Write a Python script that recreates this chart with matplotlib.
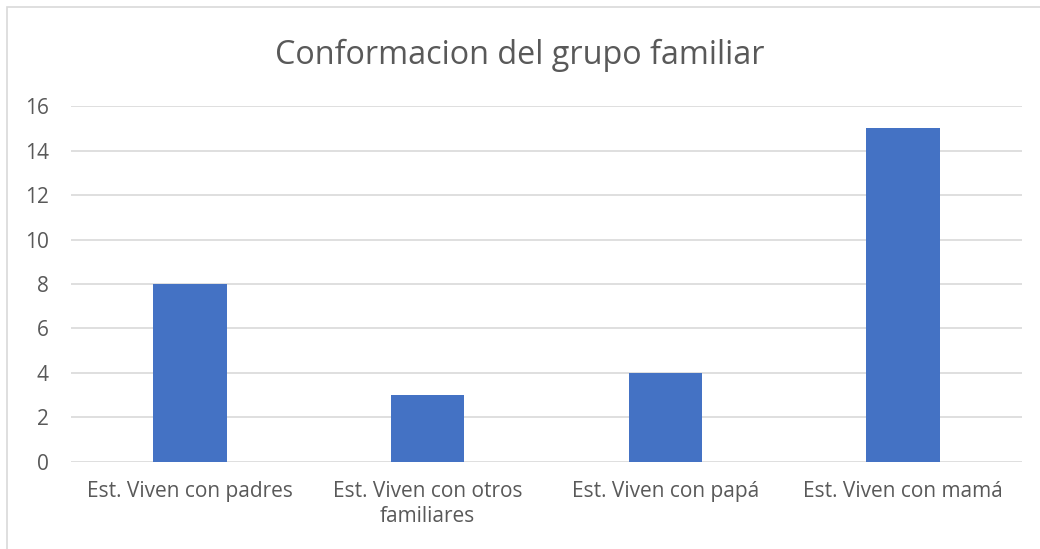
import matplotlib.pyplot as plt
from matplotlib.patches import Rectangle

# datos del grafico
categorias = ["Est. Viven con padres", "Est. Viven con otros\nfamiliares",
              "Est. Viven con papá", "Est. Viven con mamá"]
valores = [8, 3, 4, 15]
ticks_y = [0, 2, 4, 6, 8, 10, 12, 14, 16]

plt.rcParams['font.family'] = ['Open Sans', 'DejaVu Sans']

fig = plt.figure(figsize=(10.4, 5.49), dpi=100)
ax = fig.add_axes([0.0683, 0.1585, 0.9144, 0.6484])

x = range(len(categorias))
ax.bar(x, valores, width=0.31, color='#4472C4', zorder=3)

ax.set_xlim(-0.5, len(categorias) - 0.5)
ax.set_ylim(0, 16)
ax.set_yticks(ticks_y)
ax.set_xticks(list(x))
ax.set_xticklabels(categorias, fontsize=15, color='#595959', linespacing=1.2)
ax.tick_params(axis='y', labelsize=15, labelcolor='#595959', length=0, pad=16)
ax.tick_params(axis='x', length=0, pad=14)
ax.grid(axis='y', color='#D9D9D9', linewidth=1.2, zorder=0)
for s in ax.spines.values():
    s.set_visible(False)

fig.text(0.5, 0.9, "Conformacion del grupo familiar", ha='center', va='center',
         fontsize=23.3, color='#595959')

# borde del grafico
fig.patches.append(Rectangle((7 / 1040, -0.1), 1.2, 1 - 7 / 549 + 0.1,
                             transform=fig.transFigure, fill=False,
                             edgecolor='#D9D9D9', linewidth=1.2))

plt.savefig("out.png", dpi=100)
